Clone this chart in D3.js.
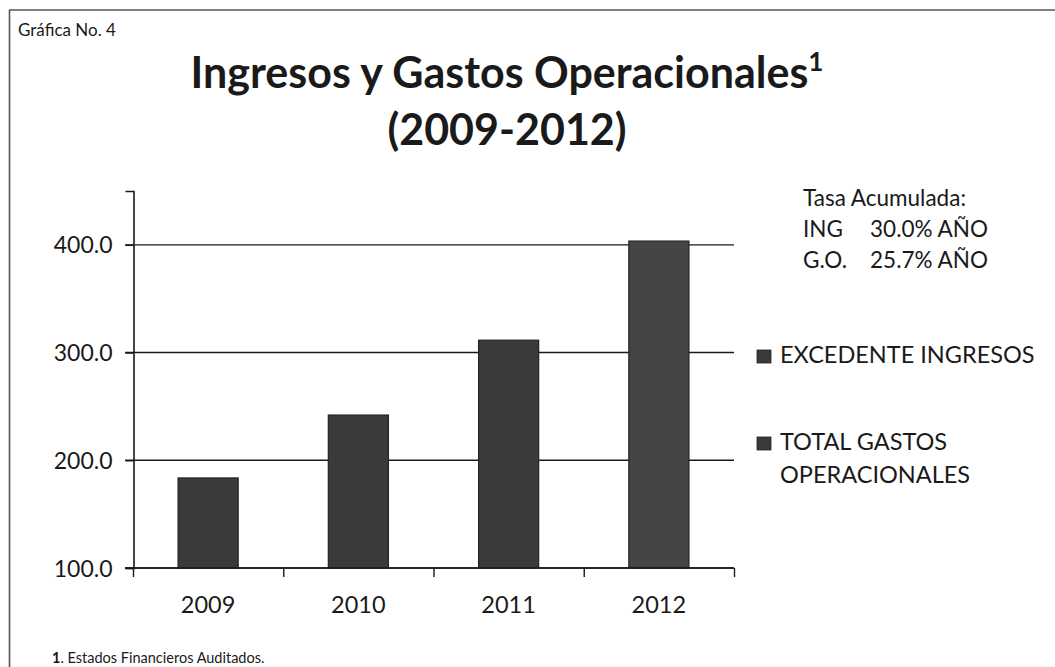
<!DOCTYPE html>
<html>
<head>
<meta charset="utf-8">
<script src="https://cdn.jsdelivr.net/npm/d3@7"></script>
<style>
  html, body { margin: 0; padding: 0; background: #fff; }
  svg { display: block; }
  text { font-family: Lato, "Open Sans", sans-serif; fill: #1a1a1a; }
</style>
</head>
<body>
<svg id="chart" width="1055" height="667"></svg>
<script>
// ---- data ----
const years = ["2009", "2010", "2011", "2012"];
const ingresos = [183.6, 242.0, 311.5, 403.5];
const yTicks = [100, 200, 300, 400];
const legendLabels = [["EXCEDENTE INGRESOS"], ["TOTAL GASTOS", "OPERACIONALES"]];
const tasaLines = [["ING", "30.0% AÑO"], ["G.O.", "25.7% AÑO"]];

const svg = d3.select("#chart");
const W = 1055, H = 667;

// frame
svg.append("line").attr("x1", 9).attr("x2", W).attr("y1", 10).attr("y2", 10)
  .attr("stroke", "#555").attr("stroke-width", 1.6);
svg.append("line").attr("x1", 9.5).attr("x2", 9.5).attr("y1", 10).attr("y2", H)
  .attr("stroke", "#555").attr("stroke-width", 1.6);

svg.append("text").attr("x", 18).attr("y", 36).attr("font-size", 17).text("Gráfica No. 4");

// title
const title = svg.append("text").attr("x", 507).attr("y", 88).attr("text-anchor", "middle")
  .attr("font-size", 43).attr("font-weight", "bold");
title.append("tspan").text("Ingresos y Gastos Operacionales");
title.append("tspan").attr("font-size", 26).attr("dy", -17).text("1");
svg.append("text").attr("x", 507).attr("y", 145).attr("text-anchor", "middle")
  .attr("font-size", 43).attr("font-weight", "bold").text("(2009-2012)");

// scales
const x = d3.scaleBand().domain(years).range([133, 734]).paddingInner(0.6).paddingOuter(0.3);
const y = d3.scaleLinear().domain([100, 450]).range([568, 191]);

// gridlines
const g = svg.append("g");
g.selectAll("line.grid").data(yTicks).join("line")
  .attr("x1", 125).attr("x2", 734)
  .attr("y1", d => y(d)).attr("y2", d => y(d))
  .attr("stroke", "#1a1a1a").attr("stroke-width", 1.4);

// y axis
const yAxis = d3.axisLeft(y).tickValues(yTicks).tickSize(8).tickFormat(d3.format(".1f"));
const ya = svg.append("g").attr("transform", "translate(133.5,0)").call(yAxis);
ya.select(".domain").attr("stroke", "#1a1a1a").attr("stroke-width", 1.6);
ya.selectAll(".tick line").attr("stroke", "#1a1a1a").attr("stroke-width", 1.4);
ya.selectAll(".tick text").attr("x", -21).attr("dy", "0.35em")
  .attr("font-size", 23).attr("font-family", "Lato, sans-serif").attr("fill", "#1a1a1a");

// bars
svg.selectAll("rect.bar").data(years).join("rect")
  .attr("x", d => x(d)).attr("width", x.bandwidth())
  .attr("y", (d, i) => y(ingresos[i])).attr("height", (d, i) => y(100) - y(ingresos[i]))
  .attr("fill", (d, i) => i === 3 ? "#454545" : "#3a3a3a")
  .attr("stroke", "#222").attr("stroke-width", 1.2);

// x axis
const xa = d3.axisBottom(d3.scaleLinear().domain([0, 4]).range([133, 734]))
  .tickValues([0, 1, 2, 3, 4]).tickSize(9).tickFormat("");
const xg = svg.append("g").attr("transform", "translate(0,568)").call(xa);
xg.select(".domain").attr("stroke", "#1a1a1a").attr("stroke-width", 1.4).attr("d", "M125,0H734");
xg.selectAll(".tick line").attr("stroke", "#1a1a1a").attr("stroke-width", 1.4);
svg.selectAll("text.xl").data(years).join("text")
  .attr("x", d => x(d) + x.bandwidth() / 2).attr("y", 613)
  .attr("text-anchor", "middle").attr("font-size", 23.5).text(d => d);

// tasa acumulada
svg.append("text").attr("x", 803).attr("y", 206).attr("font-size", 22.5).text("Tasa Acumulada:");
tasaLines.forEach((t, i) => {
  svg.append("text").attr("x", 803).attr("y", 237 + i * 31).attr("font-size", 22.5).text(t[0]);
  svg.append("text").attr("x", 988).attr("y", 237 + i * 31).attr("text-anchor", "end").attr("font-size", 22.5).text(t[1]);
});

// legend
const legY = [350, 437];
legendLabels.forEach((lines, i) => {
  svg.append("rect").attr("x", 757).attr("y", legY[i]).attr("width", 14).attr("height", 13)
    .attr("fill", "#3a3a3a").attr("stroke", "#222").attr("stroke-width", 0.8);
  lines.forEach((l, j) => {
    svg.append("text").attr("x", 780).attr("y", legY[i] + 13 + j * 33).attr("font-size", 23.5).text(l);
  });
});

// footnote
const fn = svg.append("text").attr("x", 52).attr("y", 663).attr("font-size", 14.5);
fn.append("tspan").attr("font-weight", "bold").text("1");
fn.append("tspan").text(". Estados Financieros Auditados.");
</script>
</body>
</html>
